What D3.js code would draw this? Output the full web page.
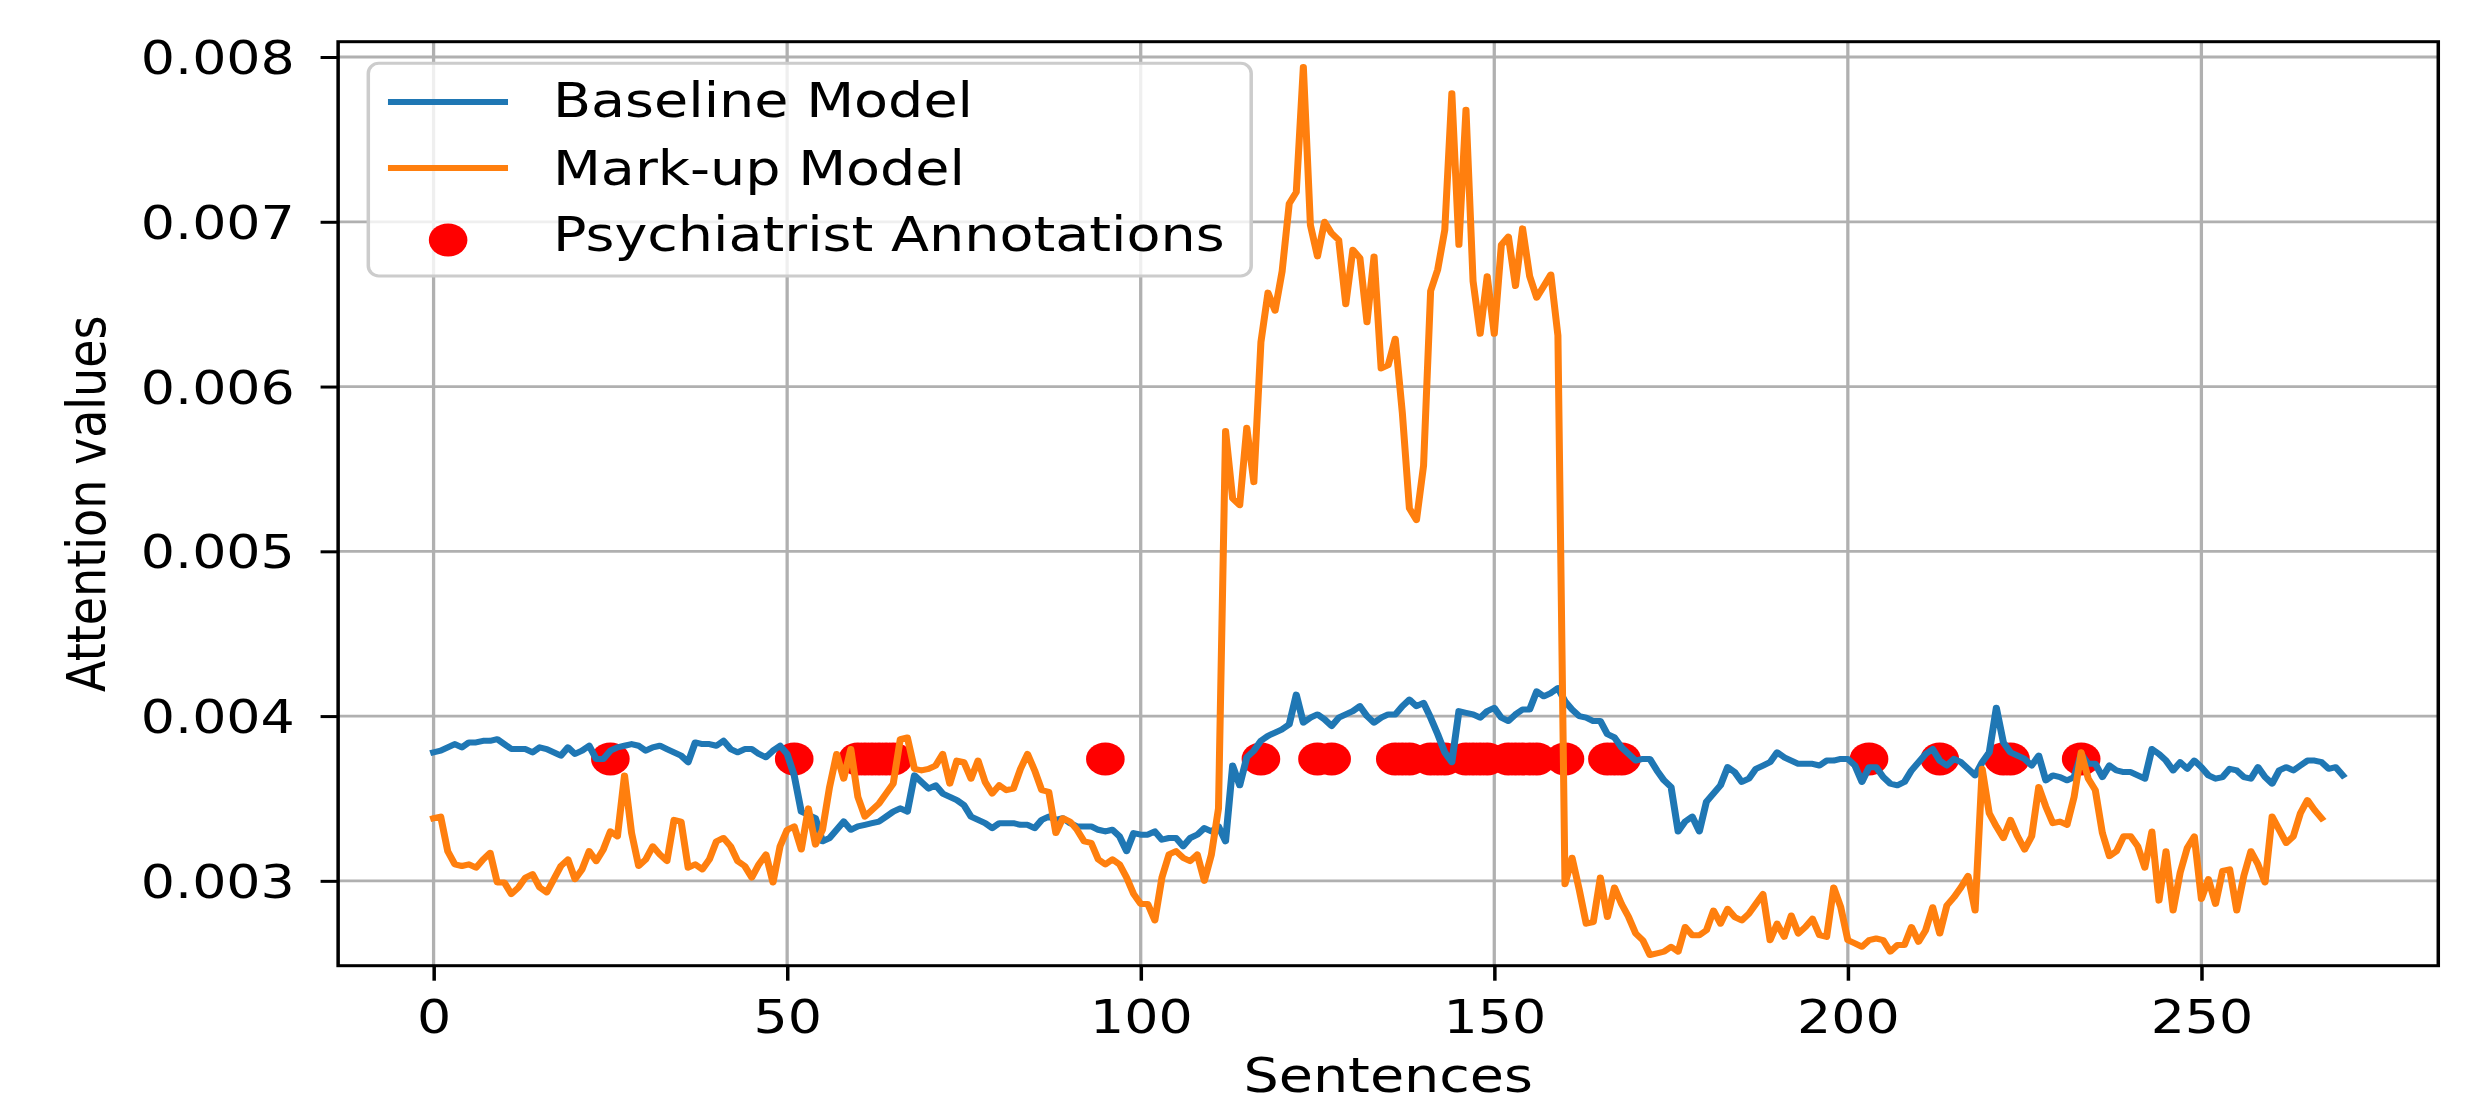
<!DOCTYPE html>
<html>
<head>
<meta charset="utf-8">
<script src="https://cdn.jsdelivr.net/npm/d3@7"></script>
<style>
  html, body { margin: 0; padding: 0; background: #fff; }
  svg { display: block; }
</style>
</head>
<body>
<div id="chart"></div>
<script>
// attention per sentence
const baselineModel = [
  0.00378, 0.00379, 0.00381, 0.00383, 0.00381, 0.00384, 0.00384, 0.00385, 0.00385, 0.00386,
  0.00383, 0.00380, 0.00380, 0.00380, 0.00378, 0.00381, 0.00380, 0.00378, 0.00376, 0.00381,
  0.00377, 0.00379, 0.00382, 0.00374, 0.00374, 0.00379, 0.00381, 0.00382, 0.00383, 0.00382,
  0.00379, 0.00381, 0.00382, 0.00380, 0.00378, 0.00376, 0.00372, 0.00384, 0.00383, 0.00383,
  0.00382, 0.00385, 0.00380, 0.00378, 0.00380, 0.00380, 0.00377, 0.00375, 0.00379, 0.00382,
  0.00377, 0.00364, 0.00342, 0.00340, 0.00338, 0.00324, 0.00326, 0.00331, 0.00336, 0.00331,
  0.00333, 0.00334, 0.00335, 0.00336, 0.00339, 0.00342, 0.00344, 0.00342, 0.00364, 0.00360,
  0.00356, 0.00358, 0.00353, 0.00351, 0.00349, 0.00346, 0.00339, 0.00337, 0.00335, 0.00332,
  0.00335, 0.00335, 0.00335, 0.00334, 0.00334, 0.00332, 0.00337, 0.00339, 0.00337, 0.00338,
  0.00335, 0.00333, 0.00333, 0.00333, 0.00331, 0.00330, 0.00331, 0.00327, 0.00318, 0.00329,
  0.00328, 0.00328, 0.00330, 0.00325, 0.00326, 0.00326, 0.00321, 0.00326, 0.00328, 0.00332,
  0.00330, 0.00333, 0.00324, 0.00370, 0.00358, 0.00375, 0.00379, 0.00385, 0.00388, 0.00390,
  0.00392, 0.00395, 0.00413, 0.00396, 0.00399, 0.00401, 0.00398, 0.00394, 0.00399, 0.00401,
  0.00403, 0.00406, 0.00400, 0.00396, 0.00399, 0.00401, 0.00401, 0.00406, 0.00410, 0.00406,
  0.00408, 0.00399, 0.00389, 0.00378, 0.00372, 0.00403, 0.00402, 0.00401, 0.00399, 0.00403,
  0.00405, 0.00399, 0.00397, 0.00401, 0.00404, 0.00404, 0.00415, 0.00412, 0.00414, 0.00417,
  0.00409, 0.00404, 0.00400, 0.00399, 0.00397, 0.00397, 0.00389, 0.00387, 0.00381, 0.00377,
  0.00373, 0.00374, 0.00374, 0.00367, 0.00361, 0.00357, 0.00330, 0.00336, 0.00339, 0.00330,
  0.00348, 0.00353, 0.00358, 0.00369, 0.00366, 0.00360, 0.00362, 0.00368, 0.00370, 0.00372,
  0.00378, 0.00375, 0.00373, 0.00371, 0.00371, 0.00371, 0.00370, 0.00373, 0.00373, 0.00374,
  0.00374, 0.00370, 0.00360, 0.00369, 0.00369, 0.00363, 0.00359, 0.00358, 0.00360, 0.00367,
  0.00372, 0.00377, 0.00380, 0.00373, 0.00370, 0.00374, 0.00372, 0.00368, 0.00364, 0.00372,
  0.00378, 0.00405, 0.00384, 0.00378, 0.00376, 0.00374, 0.00370, 0.00376, 0.00361, 0.00364,
  0.00363, 0.00361, 0.00363, 0.00377, 0.00371, 0.00371, 0.00363, 0.00370, 0.00367, 0.00366,
  0.00366, 0.00364, 0.00362, 0.00380, 0.00377, 0.00373, 0.00367, 0.00372, 0.00368, 0.00373,
  0.00369, 0.00364, 0.00362, 0.00363, 0.00368, 0.00367, 0.00363, 0.00362, 0.00369, 0.00363,
  0.00359, 0.00367, 0.00369, 0.00367, 0.00370, 0.00373, 0.00373, 0.00372, 0.00368, 0.00369,
  0.00364
];

const markupModel = [
  0.00338, 0.00339, 0.00318, 0.00310, 0.00309, 0.00310, 0.00308, 0.00313, 0.00317, 0.00299,
  0.00299, 0.00292, 0.00296, 0.00302, 0.00304, 0.00296, 0.00293, 0.00301, 0.00309, 0.00313,
  0.00301, 0.00307, 0.00318, 0.00312, 0.00319, 0.00330, 0.00327, 0.00364, 0.00329, 0.00309,
  0.00313, 0.00321, 0.00316, 0.00312, 0.00337, 0.00336, 0.00308, 0.00310, 0.00307, 0.00313,
  0.00324, 0.00326, 0.00321, 0.00312, 0.00309, 0.00302, 0.00310, 0.00316, 0.00299, 0.00321,
  0.00331, 0.00333, 0.00319, 0.00344, 0.00322, 0.00331, 0.00357, 0.00377, 0.00362, 0.00380,
  0.00351, 0.00339, 0.00343, 0.00347, 0.00353, 0.00359, 0.00386, 0.00387, 0.00368, 0.00367,
  0.00368, 0.00370, 0.00377, 0.00359, 0.00373, 0.00372, 0.00362, 0.00373, 0.00360, 0.00353,
  0.00358, 0.00355, 0.00356, 0.00368, 0.00377, 0.00367, 0.00355, 0.00354, 0.00329, 0.00338,
  0.00336, 0.00331, 0.00324, 0.00323, 0.00313, 0.00310, 0.00313, 0.00310, 0.00302, 0.00292,
  0.00286, 0.00286, 0.00276, 0.00302, 0.00316, 0.00318, 0.00314, 0.00312, 0.00316, 0.00300,
  0.00316, 0.00344, 0.00573, 0.00532, 0.00528, 0.00575, 0.00542, 0.00627, 0.00657, 0.00646,
  0.00670, 0.00711, 0.00718, 0.00794, 0.00698, 0.00679, 0.00700, 0.00693, 0.00689, 0.00650,
  0.00683, 0.00678, 0.00639, 0.00679, 0.00611, 0.00613, 0.00629, 0.00584, 0.00526, 0.00519,
  0.00552, 0.00658, 0.00671, 0.00695, 0.00778, 0.00686, 0.00768, 0.00664, 0.00632, 0.00667,
  0.00632, 0.00686, 0.00691, 0.00661, 0.00696, 0.00667, 0.00654, 0.00661, 0.00668, 0.00631,
  0.00298, 0.00314, 0.00295, 0.00274, 0.00275, 0.00302, 0.00278, 0.00296, 0.00286, 0.00278,
  0.00268, 0.00264, 0.00255, 0.00256, 0.00257, 0.00260, 0.00257, 0.00272, 0.00267, 0.00267,
  0.00270, 0.00282, 0.00274, 0.00283, 0.00278, 0.00276, 0.00280, 0.00286, 0.00292, 0.00264,
  0.00274, 0.00266, 0.00279, 0.00268, 0.00272, 0.00277, 0.00267, 0.00266, 0.00296, 0.00284,
  0.00264, 0.00262, 0.00260, 0.00264, 0.00265, 0.00264, 0.00257, 0.00261, 0.00261, 0.00272,
  0.00263, 0.00270, 0.00284, 0.00268, 0.00285, 0.00290, 0.00296, 0.00303, 0.00282, 0.00368,
  0.00341, 0.00333, 0.00326, 0.00337, 0.00327, 0.00319, 0.00327, 0.00357, 0.00345, 0.00335,
  0.00336, 0.00334, 0.00351, 0.00378, 0.00362, 0.00355, 0.00329, 0.00315, 0.00318, 0.00327,
  0.00327, 0.00321, 0.00308, 0.00330, 0.00288, 0.00318, 0.00282, 0.00305, 0.00320, 0.00327,
  0.00289, 0.00301, 0.00286, 0.00306, 0.00307, 0.00282, 0.00303, 0.00318, 0.00310, 0.00299,
  0.00339, 0.00331, 0.00323, 0.00327, 0.00341, 0.00349, 0.00343, 0.00338
];

// sentences flagged by the psychiatrist, drawn at a fixed height
const annotatedSentences = [
  25, 51, 60, 61, 62, 63, 64, 65, 95, 117, 125, 127,
  136, 137, 138, 141, 142, 143, 146, 147, 148, 149,
  152, 153, 154, 155, 156, 160, 166, 167, 168,
  203, 213, 222, 223, 233
];
const annotationLevel = 0.00374;

const seriesNames = ['Baseline Model', 'Mark-up Model', 'Psychiatrist Annotations'];
const xTicks = [0, 50, 100, 150, 200, 250];
const yTicks = [0.003, 0.004, 0.005, 0.006, 0.007, 0.008];

const W = 2477, H = 1105;
const SX = 1.17;             // the figure is stretched sideways
const VW = W / SX;
const plot = {left: 289, right: 2084, top: 41.7, bottom: 965.7};
const FONT = 46;
const LABEL_FONT = 47.5;
const LW = 6;
const colors = {base: '#1f77b4', markup: '#ff7f0e', ann: '#ff0000'};

const svg = d3.select('#chart').append('svg')
    .attr('width', W)
    .attr('height', H)
    .attr('viewBox', `0 0 ${VW} ${H}`)
    .attr('preserveAspectRatio', 'none');

svg.append('rect').attr('width', VW).attr('height', H).attr('fill', '#fff');

const x = d3.scaleLinear().domain([-13.5, 283.5]).range([plot.left, plot.right]);
const y = d3.scaleLinear().domain([0.002485, 0.008093]).range([plot.bottom, plot.top]);

// grid
const grid = svg.append('g').attr('id', 'grid')
    .attr('stroke', '#b0b0b0')
    .attr('stroke-width', 2.8);
grid.selectAll('line.gx').data(xTicks).enter().append('line')
    .attr('class', 'gx')
    .attr('x1', d => x(d)).attr('x2', d => x(d))
    .attr('y1', plot.top).attr('y2', plot.bottom);
grid.selectAll('line.gy').data(yTicks).enter().append('line')
    .attr('class', 'gy')
    .attr('x1', plot.left).attr('x2', plot.right)
    .attr('y1', d => y(d)).attr('y2', d => y(d));

// annotations sit under the lines
svg.append('g').attr('id', 'annotations')
    .selectAll('circle')
    .data(annotatedSentences)
    .enter().append('circle')
    .attr('cx', d => x(d))
    .attr('cy', y(annotationLevel))
    .attr('r', 16.5)
    .attr('fill', colors.ann);

const line = d3.line()
    .x((d, i) => x(i))
    .y(d => y(d));

svg.append('path')
    .datum(baselineModel)
    .attr('d', line)
    .attr('fill', 'none')
    .attr('stroke', colors.base)
    .attr('stroke-width', LW)
    .attr('stroke-linejoin', 'round')
    .attr('stroke-linecap', 'square');

svg.append('path')
    .datum(markupModel)
    .attr('d', line)
    .attr('fill', 'none')
    .attr('stroke', colors.markup)
    .attr('stroke-width', LW)
    .attr('stroke-linejoin', 'round')
    .attr('stroke-linecap', 'square');

// axes
const xAxis = svg.append('g')
    .attr('transform', `translate(0,${plot.bottom})`)
    .call(d3.axisBottom(x).tickValues(xTicks).tickSize(15).tickSizeOuter(0).tickPadding(19.6));
const yAxis = svg.append('g')
    .attr('transform', `translate(${plot.left},0)`)
    .call(d3.axisLeft(y).tickValues(yTicks).tickSize(15).tickSizeOuter(0).tickPadding(22)
        .tickFormat(d3.format('.3f')));

[xAxis, yAxis].forEach(ax => {
    ax.select('.domain').remove();
    ax.selectAll('.tick line').attr('stroke', '#000').attr('stroke-width', 3);
    ax.selectAll('.tick text')
        .attr('fill', '#000')
        .style('font-family', '"DejaVu Sans", sans-serif')
        .style('font-size', FONT + 'px');
});
yAxis.selectAll('.tick text').attr('dy', '0.36em');

svg.append('rect')
    .attr('x', plot.left).attr('y', plot.top)
    .attr('width', plot.right - plot.left)
    .attr('height', plot.bottom - plot.top)
    .attr('fill', 'none')
    .attr('stroke', '#000')
    .attr('stroke-width', 3);

svg.append('text')
    .attr('x', (plot.left + plot.right) / 2)
    .attr('y', 1092)
    .attr('text-anchor', 'middle')
    .style('font-family', '"DejaVu Sans", sans-serif')
    .style('font-size', LABEL_FONT + 'px')
    .text('Sentences');

svg.append('text')
    .attr('transform', `translate(89.7,${(plot.top + plot.bottom) / 2}) rotate(-90)`)
    .attr('text-anchor', 'middle')
    .style('font-family', '"DejaVu Sans", sans-serif')
    .style('font-size', FONT + 'px')
    .text('Attention values');

// legend
const legend = svg.append('g').attr('id', 'legend');
legend.append('rect')
    .attr('x', 314.8).attr('y', 63.3)
    .attr('width', 1069.4 - 314.8).attr('height', 276 - 63.3)
    .attr('rx', 9).attr('ry', 10)
    .attr('fill', '#fff').attr('fill-opacity', 0.8)
    .attr('stroke', '#cccccc').attr('stroke-width', 3);

const rows = [
    {name: seriesNames[0], kind: 'line', color: colors.base, cy: 102, base: 117},
    {name: seriesNames[1], kind: 'line', color: colors.markup, cy: 168, base: 185},
    {name: seriesNames[2], kind: 'dot', color: colors.ann, cy: 240, base: 251}
];
rows.forEach(r => {
    if (r.kind === 'line') {
        legend.append('line')
            .attr('x1', 331.6).attr('x2', 434.2)
            .attr('y1', r.cy).attr('y2', r.cy)
            .attr('stroke', r.color).attr('stroke-width', LW);
    } else {
        legend.append('circle')
            .attr('cx', 383).attr('cy', r.cy).attr('r', 16.5)
            .attr('fill', r.color);
    }
    legend.append('text')
        .attr('x', 472.6).attr('y', r.base)
        .style('font-family', '"DejaVu Sans", sans-serif')
        .style('font-size', LABEL_FONT + 'px')
        .attr('fill', '#000')
        .text(r.name);
});
</script>
</body>
</html>
